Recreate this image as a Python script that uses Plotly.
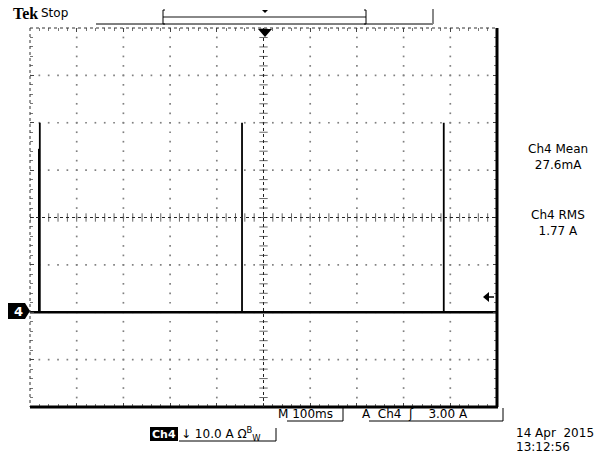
import numpy as np
import plotly.graph_objects as go

# ---- data ----
time_range_ms = [0, 1000]          # 10 div x 100 ms/div
current_range_A = [-20, 60]        # 8 div x 10 A/div, ground marker 2 div above bottom
baseline_A = 0.0
spike_times_ms = [19, 21, 454, 886]
spike_peaks_A = [34.5, 40, 40, 40]
trigger_level_A = 3.0
meas_labels = ["Ch4 Mean", "Ch4 RMS"]
meas_values = ["27.6mA", "1.77 A"]

W, H = 611, 461
L, R, T, B = 30, 497, 28, 407


def fx(p):
    return (p - L) / (R - L)


def fy(p):
    return (B - p) / (B - T)


fig = go.Figure()

# grid dots (layout only)
gx, gy = [], []
for xl in range(100, 1000, 100):
    if xl == 500:
        continue
    for yv in np.arange(-20, 60.01, 2):
        gx.append(xl); gy.append(yv)
for yl in range(-10, 60, 10):
    if yl == 20:
        continue
    for xv in np.arange(0, 1000.01, 20):
        gx.append(xv); gy.append(yl)
fig.add_trace(go.Scatter(x=gx, y=gy, mode="markers", hoverinfo="skip",
                         marker=dict(symbol="square", size=1.7, color="#808080", line=dict(width=0)),
                         showlegend=False))

# center crosshair ticks
cx = list(np.arange(0, 1000.01, 20))
fig.add_trace(go.Scatter(x=cx, y=[20] * len(cx), mode="markers", hoverinfo="skip",
                         marker=dict(symbol="line-ns", size=6, line=dict(width=1, color="#666")),
                         showlegend=False))
cy = list(np.arange(-20, 60.01, 2))
fig.add_trace(go.Scatter(x=[500] * len(cy), y=cy, mode="markers", hoverinfo="skip",
                         marker=dict(symbol="line-ew", size=6, line=dict(width=1, color="#666")),
                         showlegend=False))

# baseline
fig.add_trace(go.Scatter(x=time_range_ms, y=[baseline_A, baseline_A], mode="lines",
                         line=dict(color="black", width=2.5), hoverinfo="skip", showlegend=False))
# spikes
xs, ys = [], []
for t, p in zip(spike_times_ms, spike_peaks_A):
    xs += [t, t, None]
    ys += [baseline_A, p, None]
fig.add_trace(go.Scatter(x=xs, y=ys, mode="lines", line=dict(color="black", width=1.8),
                         hoverinfo="skip", showlegend=False))

shapes = []


def line(x0, y0, x1, y1, color="black", width=1, dash=None):
    d = dict(type="line", xref="paper", yref="paper", x0=fx(x0), y0=fy(y0), x1=fx(x1), y1=fy(y1),
             line=dict(color=color, width=width))
    if dash:
        d["line"]["dash"] = dash
    shapes.append(d)


def poly(pts, color="black"):
    path = "M" + " L".join(f"{fx(a):.5f},{fy(b):.5f}" for a, b in pts) + " Z"
    shapes.append(dict(type="path", xref="paper", yref="paper", path=path,
                       fillcolor=color, line=dict(color=color, width=0)))


# frame
line(L, T, R, T, color="#333", width=1, dash="dot")
line(L, T, L, B, color="#333", width=1, dash="dot")
line(L, B, R + 1, B, width=3)
line(R, T, R, B, width=3)
# center crosshair dotted lines
shapes.append(dict(type="line", xref="x", yref="y", x0=500, x1=500, y0=-20, y1=60,
                   line=dict(color="#222", width=1, dash="dot")))
shapes.append(dict(type="line", xref="x", yref="y", x0=0, x1=1000, y0=20, y1=20,
                   line=dict(color="#222", width=1, dash="dot")))

# top record bar
line(96, 24, 433, 24, width=1)
line(163, 17, 366, 17, color="#888", width=2)
line(163, 10, 163, 24, width=1)
line(163, 10, 165, 10, width=1)
line(163, 24, 165, 24, width=1)
line(366, 10, 366, 24, width=1)
line(364, 10, 366, 10, width=1)
line(364, 24, 366, 24, width=1)
line(433, 9, 433, 24, color="#888", width=2)
poly([(262, 10), (268, 10), (265, 13)])
# trigger position marker
poly([(258, 29), (272, 29), (265, 37)])

# ground marker
poly([(8, 303), (25, 303), (30, 311), (25, 319), (8, 319)])
# trigger level arrow
line(487, 297, 494, 297, width=1.5)
poly([(483, 297), (489, 292), (489, 302)])

# bottom readouts underlines/bars
line(287, 421, 343, 421)
line(343, 408, 343, 421)
line(369, 421, 503, 421)
line(503, 408, 503, 421)
line(179, 441, 276, 441)
line(276, 428, 276, 441)
# Ch4 black box
shapes.append(dict(type="rect", xref="paper", yref="paper", x0=fx(150), x1=fx(178),
                   y0=fy(441), y1=fy(427), fillcolor="black", line=dict(width=0)))

ann = []
SANS = "DejaVu Sans"


def text(x, y, s, size=12, color="black", xanchor="left", family=SANS):
    ann.append(dict(x=fx(x), y=fy(y), xref="paper", yref="paper", text=s, showarrow=False,
                    xanchor=xanchor, yanchor="middle", font=dict(family=family, size=size, color=color)))


text(11, 14, "<b>Tek</b>", size=16, family="Liberation Serif")
text(39, 13, "Stop", size=12)
text(18, 311, "<b>4</b>", size=13, color="white", xanchor="center")
for i, (lab, val) in enumerate(zip(meas_labels, meas_values)):
    base = 157 + i * 66
    text(558, base, lab + "<br>" + val, xanchor="center")
text(276, 414, "M 100ms")
text(360, 414, "A  Ch4  ʃ    3.00 A")
text(164, 434, "<b>Ch4</b>", size=11, color="white", xanchor="center")
text(179, 434, "↓ 10.0 A Ω<sup>B</sup><sub>W</sub>")
text(514, 433, "14 Apr  2015")
text(514, 447, "13:12:56")

fig.update_layout(
    width=W, height=H,
    margin=dict(l=L, r=W - R, t=T, b=H - B, pad=0),
    paper_bgcolor="white", plot_bgcolor="white",
    shapes=shapes, annotations=ann,
    xaxis=dict(range=time_range_ms, showgrid=False, zeroline=False, showline=False,
               showticklabels=False, ticks="inside", ticklen=4, tickcolor="#444",
               dtick=100, tick0=0, mirror="ticks",
               minor=dict(ticks="inside", ticklen=3, dtick=20, tickcolor="#777", showgrid=False)),
    yaxis=dict(range=current_range_A, showgrid=False, zeroline=False, showline=False,
               showticklabels=False, ticks="inside", ticklen=4, tickcolor="#444",
               dtick=10, tick0=0, mirror="ticks",
               minor=dict(ticks="inside", ticklen=3, dtick=2, tickcolor="#777", showgrid=False)),
    showlegend=False,
)

fig.write_html("out.html")
